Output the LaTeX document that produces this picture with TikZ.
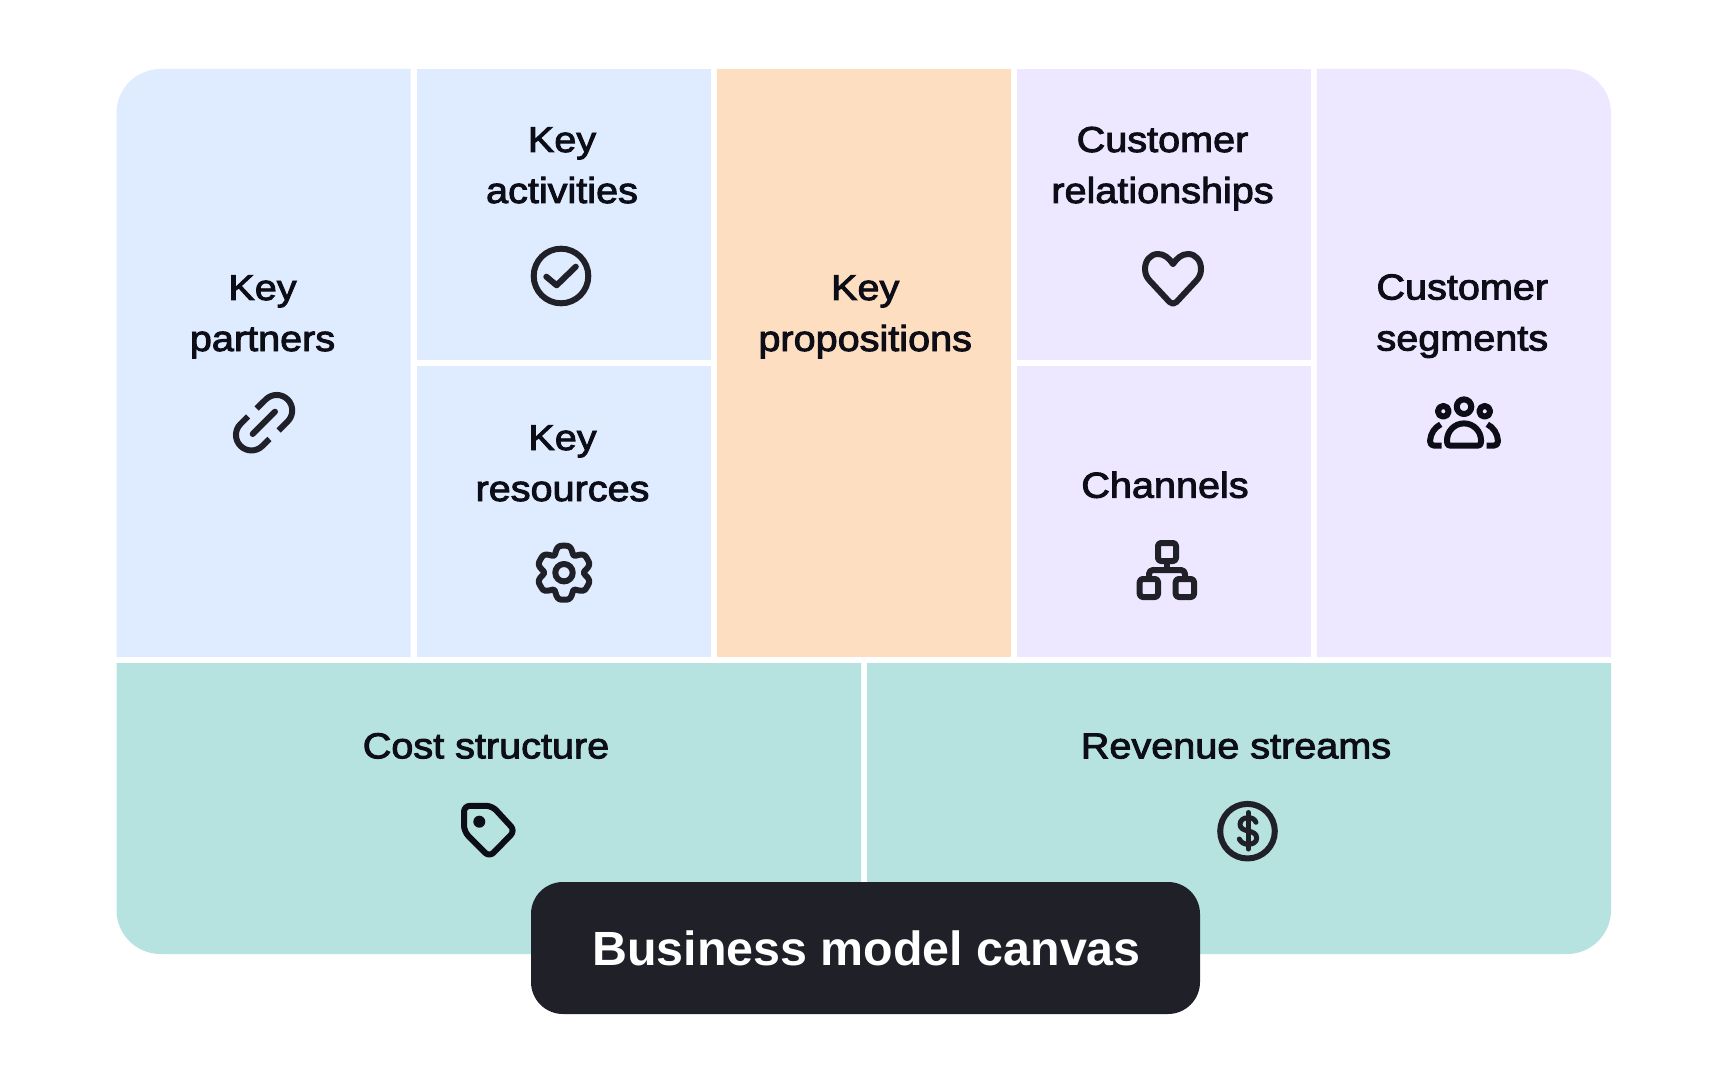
\documentclass[tikz,border=0pt]{standalone}
\usepackage{fontspec}
\newfontfamily\labfont[FakeBold=2.6,FakeStretch=1.1]{Liberation Sans}
\newfontfamily\titlefont[FakeStretch=1.008]{Liberation Sans Bold}
\definecolor{cblue}{HTML}{DFECFF}
\definecolor{cpurple}{HTML}{EDE8FF}
\definecolor{corange}{HTML}{FEDEC0}
\definecolor{cteal}{HTML}{B6E2E0}
\definecolor{cdark}{HTML}{1F2028}
\definecolor{cink}{HTML}{0C0D16}
\tikzset{
  lab/.style={font=\labfont\fontsize{18}{25.5}\selectfont,align=center,inner sep=0pt,anchor=base,text=cink},
  ttl/.style={font=\titlefont\fontsize{24}{28}\selectfont,inner sep=0pt,anchor=base,text=white},
  icon/.style={draw=cdark,line width=3pt,line cap=round,line join=round},
  hook/.style={icon,line cap=butt},
  dark icon/.style={icon,draw=cink}
}
\begin{document}
\begin{tikzpicture}[x=0.5pt,y=0.5pt,yscale=-1]
\useasboundingbox (0,0) rectangle (1728,1080);
\fill[white] (0,0) rectangle (1728,1080);
% top-row cells
\fill[cblue] (116.5,657) -- (116.5,113) arc[start angle=180,end angle=270,radius=44] -- (410.6,69) -- (410.6,657) -- cycle;
\fill[cblue] (416.6,69) rectangle (710.7,360);
\fill[cblue] (416.6,365.7) rectangle (710.7,657);
\fill[corange] (716.7,69) rectangle (1010.8,657);
\fill[cpurple] (1016.8,69) rectangle (1310.9,360);
\fill[cpurple] (1016.8,365.7) rectangle (1310.9,657);
\fill[cpurple] (1316.9,657) -- (1316.9,69) -- (1567,69) arc[start angle=270,end angle=360,radius=44] -- (1611,657) -- cycle;
% bottom row
\fill[cteal] (116.5,663) -- (861,663) -- (861,954) -- (160.5,954) arc[start angle=90,end angle=180,radius=44] -- cycle;
\fill[cteal] (867,663) -- (1611,663) -- (1611,910) arc[start angle=0,end angle=90,radius=44] -- (867,954) -- cycle;
% title box
\fill[cdark,rounded corners=16pt] (531,882) rectangle (1200,1014);
% labels
\node[lab] (kp) at (262.5,351) {Key\\partners};
\node[lab] (ka) at (562,203) {Key\\activities};
\node[lab] (kr) at (562.5,501) {Key\\resources};
\node[lab] (kv) at (865.2,351) {Key\\propositions};
\node[lab] (cr) at (1162.5,203) {Customer\\relationships};
\node[lab] (ch) at (1165,497.7) {Channels};
\node[lab] (cs) at (1462.3,350.5) {Customer\\segments};
\node[lab] (cost) at (486,758.3) {Cost structure};
\node[lab] (rev) at (1236,758.3) {Revenue streams};
\node[ttl] (title) at (866.5,965.7) {Business model canvas};
% link icon
\draw[icon] (252.7,434) -- (275,411.7);
\draw[hook] (256.7,408.5) -- (265.75,399.5) arc[start angle=225,end angle=405,radius=15.5] -- (278.7,430.5);
\draw[hook] (248,416.5) -- (240.5,424) arc[start angle=225,end angle=45,radius=15.5] -- (269.5,439);
% check icon
\draw[icon] (561,276) circle[radius=27.3];
\draw[icon] (546.3,276.7) -- (556.6,285.3) -- (575.8,266.7);
% gear icon
\draw[icon] (564,572.7) circle[radius=8.7];
\draw[icon,smooth cycle] plot[domain=0:356,samples=90] ({564+(24.5-3.6*cos(6*\x)-1.1*cos(12*\x))*cos(\x)},{572.7+(24.5-3.6*cos(6*\x)-1.1*cos(12*\x))*sin(\x)});
% heart icon
\draw[icon] (1173,264) .. controls (1169,258) and (1164,254) .. (1158,254) .. controls (1150,254) and (1145,261) .. (1145,269) .. controls (1145,274) and (1147,278) .. (1150,281) -- (1169.5,302) .. controls (1171.5,304.3) and (1174.5,304.3) .. (1176.5,302) -- (1196,281) .. controls (1199,278) and (1201,274) .. (1201,269) .. controls (1201,261) and (1196,254) .. (1188,254) .. controls (1182,254) and (1177,258) .. (1173,264);
% channels icon
\draw[icon,rounded corners=1.5pt] (1158,543) rectangle (1176,561);
\draw[icon,rounded corners=1.5pt] (1139.7,579) rectangle (1158,597);
\draw[icon,rounded corners=1.5pt] (1175.7,579) rectangle (1194,597);
\draw[icon] (1167,562) -- (1167,570);
\draw[icon,rounded corners=2pt] (1149,579) -- (1149,570) -- (1185,570) -- (1185,579);
% people icon
\draw[dark icon] (1464,406.7) circle[radius=7.3];
\draw[dark icon] (1443.3,411.3) circle[radius=5.4];
\draw[dark icon] (1484.7,411.3) circle[radius=5.4];
\draw[dark icon] (1447,440.4) arc[start angle=180,end angle=360,radius=17] -- (1481,442) .. controls (1481,444.5) and (1480,445.6) .. (1478,445.6) -- (1450,445.6) .. controls (1448,445.6) and (1447,444.5) .. (1447,442) -- cycle;
\draw[dark icon,line cap=butt] (1440.7,424.3) .. controls (1434.5,427.5) and (1430.5,433.5) .. (1430,441) .. controls (1430,444) and (1431.5,445.6) .. (1434,445.6) -- (1441.7,445.6);
\draw[dark icon,line cap=butt] (1487.3,424.3) .. controls (1493.5,427.5) and (1497.5,433.5) .. (1498,441) .. controls (1498,444) and (1496.5,445.6) .. (1494,445.6) -- (1486.7,445.6);
% tag icon
\draw[dark icon,rounded corners=3pt] (476,805.8) -- (492,805.8) -- (515,830.7) -- (489.3,857) -- (464,831.5) -- (464,805.8) -- cycle;
\fill[cink] (479.3,821.7) circle[radius=6];
% dollar icon
\draw[icon] (1247.5,831.2) circle[radius=27.3];
\draw[icon,line width=2.5pt] (1248.3,812.5) -- (1248.3,849);
\draw[icon,line width=2.5pt] (1256,822.3) .. controls (1254.5,819) and (1252,817.7) .. (1248.3,817.7) .. controls (1243,817.7) and (1240,820.5) .. (1240,824.5) .. controls (1240,828.5) and (1244,830) .. (1248.3,831) .. controls (1253,832) and (1256.7,834) .. (1256.7,838) .. controls (1256.7,842) and (1253,844.3) .. (1248.3,844.3) .. controls (1244,844.3) and (1241,842.5) .. (1239.3,839);
\end{tikzpicture}
\end{document}
